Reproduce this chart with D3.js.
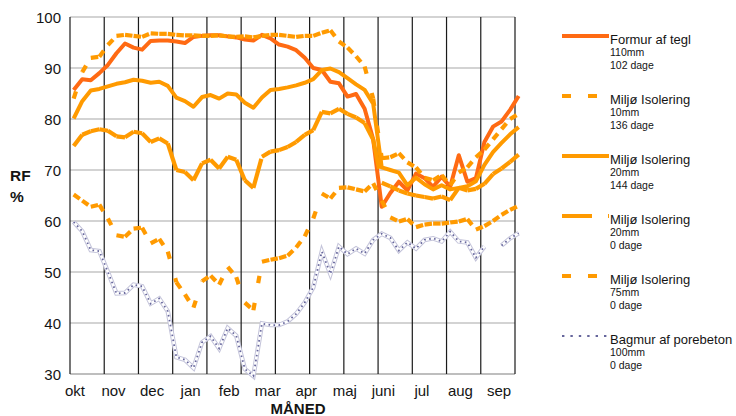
<!DOCTYPE html>
<html><head><meta charset="utf-8">
<script src="https://cdn.jsdelivr.net/npm/d3@7"></script>
<style>
body{margin:0;background:#fff}
svg{display:block}
text{font-family:"Liberation Sans",Arial,sans-serif;fill:#141414}
</style>
</head><body>
<svg id="chart" width="736" height="416"></svg>
<script>
// ---- data ----
const months = ["okt","nov","dec","jan","feb","mar","apr","maj","juni","jul","aug","sep"];
const yTicks = [30,40,50,60,70,80,90,100];
const gridDays = d3.range(0, 365, 28);            // vertical gridlines every 4 weeks
const weekDays = d3.range(53).map(i => 3 + 7 * i); // day of each weekly reading

const formurTegl = [85.7,87.8,87.6,89,90.6,92.9,94.8,94,93.6,95.3,95.4,95.4,95.2,94.9,96.1,96.3,96.4,96.4,96.2,96,95.6,95.4,96.5,95.8,94.6,94.2,93.5,92,90,89.6,87.3,87,84.4,84.9,82,76,62.8,65.5,67.7,66,69.3,68.4,66.7,68.7,66.7,72.9,67.7,68.4,75.5,78.5,79.5,81.8,84.5];
const miljo10 = [84,89.2,92,92.2,94.5,96.3,96.5,96.3,96.1,96.8,96.7,96.7,96.5,96.4,96.4,96.3,96.3,96.4,96.2,96.1,96.2,96,96.3,96.5,96.5,96.3,96.1,96.3,96.3,96.9,97.4,95.2,94,92.3,90.3,84,72.3,72.5,73.3,71.5,70.5,68.5,68,69,67,69.5,70.5,72.5,74,76,78,80,81];
const miljo20a = [80.1,83.5,85.6,85.9,86.4,86.9,87.2,87.7,87.5,87.1,87.3,86.5,84.2,83.5,82.4,84.3,84.7,84,85,84.8,83.2,82.2,84.2,85.7,85.9,86.2,86.6,87.1,87.8,89.6,89.9,89.2,88,86.8,85.7,83,70.5,70,69.5,67,68.5,67.2,66.2,67,66.2,66.5,66.8,67.8,71,73.5,75.3,77,78.4];
const miljo20b = [74.7,76.9,77.6,78,77.7,76.6,76.4,77.5,77.2,75.5,76.2,75.2,70,69.6,68,71.3,72,70.3,72.6,72,68,66.5,72.6,73.6,73.9,74.5,75.5,76.9,77.8,81.4,81.1,82,81,80.3,79.2,76,67.5,66.8,66,65.4,65,64.7,64.4,64.8,64.1,66.5,66,66.3,67.3,69.2,70.3,71.6,73];
const miljo75 = [65.2,64,62.8,63.2,60.5,57.2,56.9,58.5,58.7,55.6,56.5,54,48,45.6,43,48.2,49.3,47.5,51,49,44,42.5,52,52.4,52.7,53.2,54.8,57,60.5,65.4,64.4,66.5,66.6,66.2,65.8,67.4,64,60.7,59.9,60.4,58.8,59.3,59.5,59.5,59.7,59.9,60.4,58.3,59,60,61.2,62.2,63];
const porebeton = [59.8,58,54.3,54.1,50,45.8,45.9,47.5,47.2,43.8,44.8,42.3,33.3,32.8,31.2,36.2,37.4,35,39,37.5,31,29.6,39.9,39.6,39.6,40.3,41.8,44,47,54,49.6,55,53.5,54.6,53.6,56.3,57.5,56.7,54.2,55.8,54.6,56.3,56.6,56,57.9,56,55.8,52.8,55,null,55.2,56.6,57.6];

const seriesNames = ["Formur af tegl","Miljø Isolering","Miljø Isolering","Miljø Isolering","Miljø Isolering","Bagmur af porebeton"];
const seriesThickness = ["110mm","10mm","20mm","20mm","75mm","100mm"];
const seriesDays = ["102 dage","136 dage","144 dage","0 dage","0 dage","0 dage"];

// ---- styles ----
const styles = [
  {vals: formurTegl, color:"#FF6A13", kind:"solid"},
  {vals: miljo10,    color:"#FF9A00", kind:"dash",   dash:"7.5,20", legendDash:"9,17"},
  {vals: miljo20a,   color:"#FF9A00", kind:"solid"},
  {vals: miljo20b,   color:"#FF9A00", kind:"dash",   dash:"30,16",  legendDash:"30,16"},
  {vals: miljo75,    color:"#FF9A00", kind:"dash",   dash:"7.5,20", legendDash:"9,17"},
  {vals: porebeton,  color:"#66669C", kind:"dots"}
];

const svg = d3.select("#chart");
const x = d3.scaleLinear().domain([0, 364]).range([70, 515]);
const y = d3.scaleLinear().domain([30, 100]).range([374, 17]);
const xm = d3.scalePoint().domain(months).range([75, 499]);

// horizontal gridlines
svg.append("g").selectAll("line").data(yTicks).join("line")
  .attr("x1", x(0)).attr("x2", x(364))
  .attr("y1", d => y(d)).attr("y2", d => y(d))
  .attr("stroke", d => d === 30 ? "#a8a8a8" : "#c4c4c4").attr("stroke-width", 1.3);

// vertical gridlines
svg.append("g").selectAll("line").data(gridDays).join("line")
  .attr("x1", d => x(d)).attr("x2", d => x(d))
  .attr("y1", y(100)).attr("y2", y(30))
  .attr("stroke", "#1a1a1a").attr("stroke-width", 1.2);

// y labels
svg.append("g").selectAll("text").data(yTicks).join("text")
  .attr("x", 61).attr("y", d => y(d) + 6)
  .attr("text-anchor", "end").attr("font-size", 15).text(d => d);

// x labels
svg.append("g").selectAll("text").data(months).join("text")
  .attr("x", d => xm(d)).attr("y", 396)
  .attr("text-anchor", "middle").attr("font-size", 15).text(d => d);

// axis titles
svg.append("text").attr("x", 10).attr("y", 181).attr("font-size", 15.5).attr("font-weight", "bold").text("RF");
svg.append("text").attr("x", 10).attr("y", 202).attr("font-size", 15.5).attr("font-weight", "bold").text("%");
svg.append("text").attr("x", 298).attr("y", 414).attr("text-anchor", "middle").attr("font-size", 15).attr("font-weight", "bold").text("MÅNED");

const line = d3.line().defined(d => d[1] != null).x(d => x(d[0])).y(d => y(d[1]));
const pts = vals => vals.map((v, i) => [weekDays[i], v]);
const segs = vals => {
  const s = [];
  for (let i = 0; i < vals.length - 1; i++)
    if (vals[i] != null && vals[i + 1] != null) s.push([[weekDays[i], vals[i]], [weekDays[i + 1], vals[i + 1]]]);
  return s;
};

const gS = svg.append("g");
styles.forEach(st => {
  if (st.kind === "solid") {
    gS.append("path").attr("d", line(pts(st.vals))).attr("fill", "none")
      .attr("stroke", st.color).attr("stroke-width", 4).attr("stroke-linejoin", "round");
  } else if (st.kind === "dash") {
    gS.append("g").selectAll("path").data(segs(st.vals)).join("path")
      .attr("d", line).attr("fill", "none").attr("stroke", st.color)
      .attr("stroke-width", 4.2).attr("stroke-dasharray", st.dash);
  } else {
    const p = line(pts(st.vals));
    gS.append("path").attr("d", p).attr("fill", "none").attr("stroke", "#c4c4da").attr("stroke-width", 4.6);
    gS.append("path").attr("d", p).attr("fill", "none").attr("stroke", "#ffffff").attr("stroke-width", 2.6);
    gS.append("path").attr("d", p).attr("fill", "none").attr("stroke", st.color).attr("stroke-width", 1.8).attr("stroke-dasharray", "1.6,3.4");
  }
});

// legend
const lg = svg.append("g");
styles.forEach((st, i) => {
  const ly = 36 + 60 * i;
  const l = lg.append("line").attr("x1", 562).attr("x2", 609).attr("y1", ly).attr("y2", ly)
    .attr("stroke", st.color);
  if (st.kind === "solid") l.attr("stroke-width", 4);
  else if (st.kind === "dash") l.attr("stroke-width", 4.2).attr("stroke-dasharray", st.legendDash);
  else l.attr("stroke-width", 2.2).attr("stroke-dasharray", "2.4,6");
  lg.append("text").attr("x", 610).attr("y", ly + 7.5).attr("font-size", 13).text(seriesNames[i]);
  lg.append("text").attr("x", 610).attr("y", ly + 19.5).attr("font-size", 10.5).text(seriesThickness[i]);
  lg.append("text").attr("x", 610).attr("y", ly + 32.5).attr("font-size", 10.5).text(seriesDays[i]);
});
</script>
</body></html>
